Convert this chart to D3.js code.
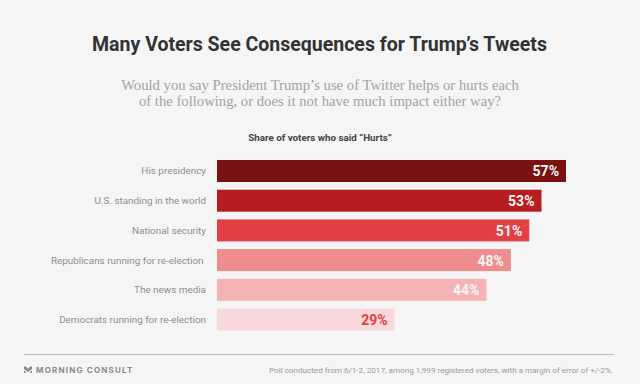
<!DOCTYPE html>
<html lang="en">
<head>
<meta charset="UTF-8">
<title>Many Voters See Consequences for Trump's Tweets</title>
<script src="https://d3js.org/d3.v7.min.js"></script>
<style>
    html, body { margin: 0; padding: 0; background: #f5f5f5; }
    svg { display: block; }
    text { font-family: Roboto, sans-serif; }
    .title { font-size: 20.5px; font-weight: 700; fill: #333; text-anchor: middle; }
    .question { font-family: "Liberation Serif", serif; font-size: 14.7px; fill: #a3a3a3; text-anchor: middle; }
    .subhead { font-size: 9.8px; font-weight: 700; fill: #444; text-anchor: middle; }
    .cat { font-size: 9.9px; fill: #8f8f8f; }
    .val { font-size: 14px; font-weight: 700; text-anchor: end; }
    .note { font-size: 8.1px; fill: #9a9a9a; text-anchor: end; }
    .brand { font-family: Inter, sans-serif; font-size: 8px; font-weight: 700; fill: #8a8a8a; letter-spacing: 1.2px; }
</style>
</head>
<body>
<script>
const categories = ["His presidency", "U.S. standing in the world", "National security",
    "Republicans running for re-election\u00a0", "The news media", "Democrats running for re-election"];
const values = [57, 53, 51, 48, 44, 29];
const barColors = ["#7a1212", "#b71c20", "#e24044", "#ef8c8e", "#f5b3b5", "#f9d8db"];
const labelColors = ["#f5f5f5", "#f5f5f5", "#f5f5f5", "#f5f5f5", "#f5f5f5", "#e24044"];
const questionLines = ["Would you say President Trump\u2019s use of Twitter helps or hurts each",
    "of the following, or does it not have much impact either way?"];

const width = 640, height = 384;

const svg = d3.select("body").append("svg")
    .attr("width", width)
    .attr("height", height);

// Headings
svg.append("text").attr("class", "title").attr("x", 319.5).attr("y", 51)
    .attr("textLength", 455).attr("lengthAdjust", "spacingAndGlyphs")
    .text("Many Voters See Consequences for Trump\u2019s Tweets");
svg.selectAll(".question").data(questionLines).join("text")
    .attr("class", "question")
    .attr("x", 320)
    .attr("y", (d, i) => 90 + i * 16)
    .text(d => d);
svg.append("text").attr("class", "subhead").attr("x", 320).attr("y", 141)
    .text("Share of voters who said \u201cHurts\u201d");

// Scales
const x = d3.scaleLinear().domain([0, 57]).range([217, 566]);
const y = d3.scaleBand().domain(categories).range([156, 334.5]).paddingInner(0.26).paddingOuter(0.135);

// Bars
svg.selectAll(".bar").data(values).join("rect")
    .attr("class", "bar")
    .attr("x", x(0))
    .attr("y", (d, i) => y(categories[i]))
    .attr("width", d => x(d) - x(0))
    .attr("height", y.bandwidth())
    .attr("fill", (d, i) => barColors[i]);

// Value labels
svg.selectAll(".val").data(values).join("text")
    .attr("class", "val")
    .attr("x", d => x(d) - 7)
    .attr("y", (d, i) => y(categories[i]) + y.bandwidth() / 2 + 5.5)
    .attr("fill", (d, i) => labelColors[i])
    .text(d => d + "%");

// Category labels
svg.selectAll(".cat").data(categories).join("text")
    .attr("class", "cat")
    .attr("x", 206)
    .attr("y", d => y(d) + y.bandwidth() / 2 + 3.5)
    .attr("text-anchor", "end")
    .text(d => d);

// Footer
svg.append("line").attr("x1", 24).attr("x2", 614).attr("y1", 354.5).attr("y2", 354.5)
    .attr("stroke", "#bdbdbd");
svg.append("path").attr("d", "M24 366.5 L26 366.5 L28 369 L30 366.5 L32 366.5 L32 369 L28 372 L24 369 Z M24 370.5 L26.5 372.5 L24 373 Z M32 370.5 L29.5 372.5 L32 373 Z")
    .attr("fill", "#8a8a8a");
svg.append("text").attr("class", "brand").attr("x", 36).attr("y", 372.5).text("MORNING CONSULT");
svg.append("text").attr("class", "note").attr("x", 613).attr("y", 372.5)
    .text("Poll conducted from 6/1-2, 2017, among 1,999 registered voters, with a margin of error of +/-2%.");
</script>
</body>
</html>
